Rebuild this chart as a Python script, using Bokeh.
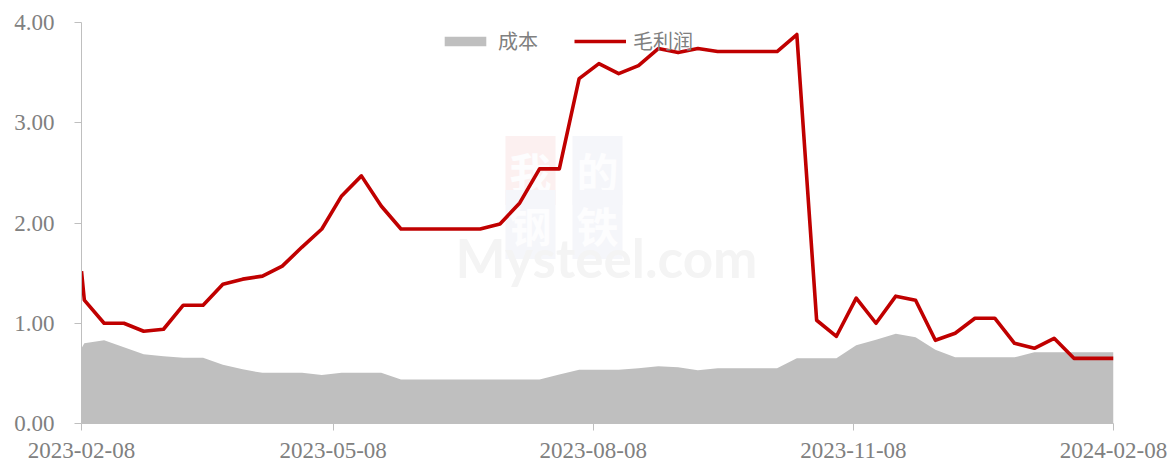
import pandas as pd
from bokeh.plotting import figure
from bokeh.models import (Range1d, FixedTicker, DatetimeTickFormatter, Legend,
                          LegendItem, Label, ColumnDataSource, NumeralTickFormatter)
from bokeh.embed import file_html
from bokeh.resources import INLINE

# ---- data ----
dates = ["2023-02-08"] + [d.strftime("%Y-%m-%d")
                          for d in pd.date_range("2023-02-09", "2024-02-08", freq="7D")]
cost = [0.75, 0.80, 0.83, 0.76, 0.69, 0.67, 0.655, 0.655, 0.585, 0.54,
        0.505, 0.505, 0.505, 0.485, 0.505, 0.505, 0.505,
        0.44, 0.44, 0.44, 0.44, 0.44, 0.44, 0.44, 0.44,
        0.49, 0.535, 0.535, 0.535, 0.55, 0.57, 0.56, 0.53,
        0.55, 0.55, 0.55, 0.55, 0.65, 0.65, 0.65,
        0.78, 0.835, 0.895, 0.86, 0.735, 0.66, 0.66, 0.66, 0.66,
        0.71, 0.71, 0.71, 0.71, 0.71]
profit = [1.52, 1.23, 1.00, 1.00, 0.92, 0.94, 1.18, 1.18, 1.39, 1.44,
          1.47, 1.57, 1.76, 1.94, 2.27, 2.47, 2.17,
          1.94, 1.94, 1.94, 1.94, 1.94, 1.99, 2.20, 2.54, 2.54,
          3.44, 3.59, 3.49, 3.57, 3.74, 3.70, 3.74,
          3.71, 3.71, 3.71, 3.71, 3.88, 1.03, 0.87, 1.25, 1.00,
          1.27, 1.23, 0.83, 0.90, 1.05, 1.05, 0.80, 0.75, 0.85,
          0.65, 0.65, 0.65]
x_ticks = ["2023-02-08", "2023-05-08", "2023-08-08", "2023-11-08", "2024-02-08"]
y_ticks = [0, 1, 2, 3, 4]
series_names = ["成本", "毛利润"]

src = ColumnDataSource(dict(x=pd.to_datetime(dates), cost=cost, profit=profit))

p = figure(width=1172, height=461, x_axis_type="datetime",
           output_backend="svg", toolbar_location=None,
           min_border_left=81, min_border_right=59, min_border_top=22,
           min_border_bottom=38)
p.x_range = Range1d(pd.Timestamp(x_ticks[0]), pd.Timestamp(x_ticks[-1]))
p.y_range = Range1d(0, 4)
p.outline_line_color = None
p.xgrid.visible = False
p.ygrid.visible = False
p.background_fill_color = "white"
p.border_fill_color = "white"

# watermark (faint, beneath the data)
wm = [("我", 449, 253, "#fcf0f0"), ("的", 516, 253, "#f5f6fa"),
      ("钢", 449, 199, "#f5f6fa"), ("铁", 516, 199, "#f5f6fa")]
for ch, sx, sy, bg in wm:
    p.add_layout(Label(x=sx, y=sy, x_units="screen", y_units="screen", text=ch,
                       text_font="Noto Sans CJK SC", text_font_style="bold",
                       text_font_size="42px", text_color="#fdfdfe",
                       text_align="center", text_baseline="middle",
                       background_fill_color=bg, padding=4, level="underlay"))
p.add_layout(Label(x=374, y=166, x_units="screen", y_units="screen",
                   text="Mysteel.com", text_font="Lato", text_font_style="bold",
                   text_font_size="53px", text_color="#f4f4f4",
                   text_baseline="middle", level="underlay"))

area = p.varea(x="x", y1=0, y2="cost", source=src, fill_color="#bfbfbf")
line = p.line(x="x", y="profit", source=src, line_color="#c00000",
              line_width=3.6, line_join="round")

tick_ms = [pd.Timestamp(t).value // 10**6 for t in x_ticks]
xa = p.xaxis[0]
xa.ticker = FixedTicker(ticks=tick_ms)
fmt = "%Y-%m-%d"
xa.formatter = DatetimeTickFormatter(milliseconds=fmt, seconds=fmt, minsec=fmt,
                                     minutes=fmt, hourmin=fmt, hours=fmt,
                                     days=fmt, months=fmt, years=fmt)
ya = p.yaxis[0]
ya.ticker = FixedTicker(ticks=y_ticks)
ya.formatter = NumeralTickFormatter(format="0.00")

for ax in (xa, ya):
    ax.axis_line_color = "#bfbfbf"
    ax.major_tick_line_color = "#bfbfbf"
    ax.minor_tick_line_color = None
    ax.major_tick_in = 0
    ax.major_tick_out = 7
    ax.major_label_text_font = "Liberation Serif"
    ax.major_label_text_font_size = "23px"
    ax.major_label_text_color = "#808080"
xa.major_label_standoff = 12
ya.major_label_standoff = 20

legend = Legend(items=[LegendItem(label=series_names[0], renderers=[area]),
                       LegendItem(label=series_names[1], renderers=[line])],
                orientation="horizontal", location=(358, 368),
                border_line_color=None, background_fill_alpha=0,
                label_text_font="Noto Sans CJK SC", label_text_font_size="20px",
                label_text_color="#808080", glyph_width=52, glyph_height=12,
                label_standoff=7, spacing=31, padding=0, margin=0, label_width=45)
p.add_layout(legend, "center")

open("out.html", "w").write(file_html(p, INLINE))
